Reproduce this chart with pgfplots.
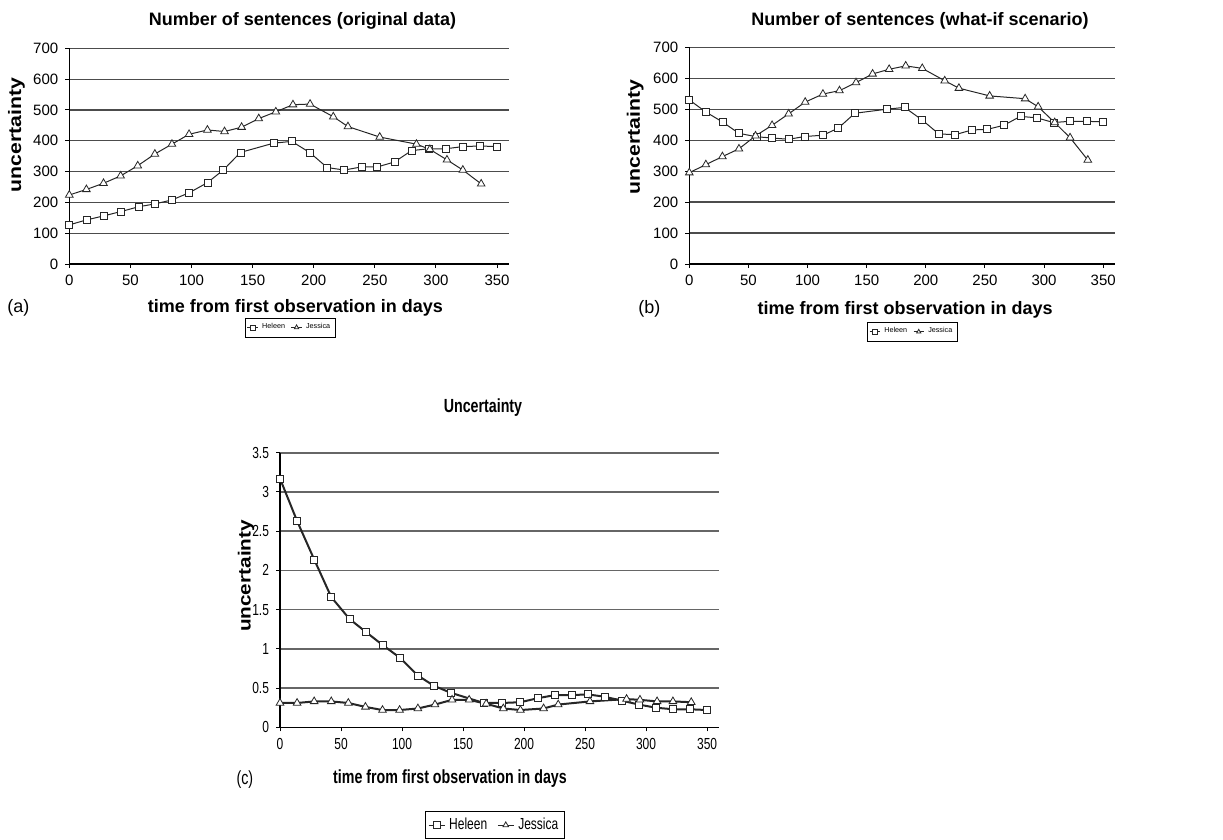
\documentclass[border=0pt]{standalone}
\usepackage{fontspec}
\setmainfont{Liberation Sans}
\newfontfamily\cfont[FakeStretch=0.75]{Liberation Sans}
\newfontfamily\yfont[FakeStretch=1.18]{Liberation Sans}
\usepackage{pgfplots}
\pgfplotsset{compat=1.18}

\pgfplotsset{
  panel/.style={
    scale only axis,
    axis lines=left, axis line style={-, black, line width=0.6pt},
    xmin=0, xmax=360, ymin=0,
    xtick={0,50,...,350},
    ymajorgrids, grid style={black!70, line width=0.6pt},
    tick align=outside, tick style={black, line width=0.5pt},
    major tick length=2pt,
    every axis title shift=0pt,
    /pgf/number format/assume math mode=true,
    clip=false,
    legend columns=2,
  },
  small/.style={
    tick label style={font=\fontsize{7.5}{9}\selectfont},
    xlabel style={font=\bfseries\fontsize{9}{11}\selectfont},
    ylabel style={font=\yfont\bfseries\fontsize{9}{11}\selectfont},
    title style={font=\bfseries\fontsize{9}{11}\selectfont},
    legend style={draw=black, line width=0.4pt, anchor=center,
      font=\fontsize{3.6}{4.5}\selectfont, inner sep=0.7pt,
      /tikz/every even column/.append style={column sep=1pt}},
    legend image code/.code={\draw[mark repeat=2,mark phase=2]
      plot coordinates {(0pt,0pt) (2.6pt,0pt) (5.2pt,0pt)};},
    legend image post style={mark size=1.25pt, line width=0.35pt},
  },
  heleen/.style={black!85, line width=0.5pt, mark=square*, mark size=1.75pt,
    mark options={fill=white, line width=0.4pt}},
  jessica/.style={black!85, line width=0.5pt, mark=triangle*, mark size=2.2pt,
    mark options={fill=white, line width=0.4pt}},
}

\begin{document}
\begin{tikzpicture}
\path (0pt,0pt) rectangle (611.5pt,-419.5pt);

% (a) original data
\begin{axis}[panel, small,
  at={(34.65pt,-132pt)}, anchor=south west,
  width=220pt, height=107.85pt,
  ymax=700, ytick={0,100,...,700},
  title={Number of sentences (original data)},
  title style={at={(0.53,1.125)}, anchor=center},
  xlabel={time from first observation in days},
  xlabel style={at={(axis description cs:0.514,-0.204)}, anchor=center},
  ylabel={uncertainty},
  ylabel style={at={(axis description cs:-0.12,0.597)}, anchor=center},
  legend style={at={(0.503,-0.294)}},
]
\addplot[heleen] coordinates {
(0,127) (14,143) (28,156) (42,170) (57,186) (70,195) (84,208) (98,231)
(113,264) (126,305) (140,362) (167,392) (182,398) (197,361) (211,313)
(225,305) (239,315) (252,315) (266,331) (280,368) (294,374) (308,374)
(322,381) (336,383) (350,381)};
\addplot[jessica] coordinates {
(0,224) (14,242) (28,262) (42,286) (56,319) (70,357) (84,389) (98,421)
(113,435) (127,430) (141,444) (155,472) (169,494) (183,517) (197,519)
(216,478) (228,446) (254,412) (284,389) (295,372) (309,338) (322,305)
(337,260)};
\legend{Heleen, Jessica}
\node[font=\fontsize{9}{11}\selectfont] at (axis description cs:-0.116,-0.204) {(a)};
\end{axis}

% (b) what-if scenario
\begin{axis}[panel, small,
  at={(344.65pt,-132pt)}, anchor=south west,
  width=212.85pt, height=108.35pt,
  ymax=700, ytick={0,100,...,700},
  title={Number of sentences (what-if scenario)},
  title style={at={(0.542,1.12)}, anchor=center},
  xlabel={time from first observation in days},
  xlabel style={at={(axis description cs:0.507,-0.212)}, anchor=center},
  ylabel={uncertainty},
  ylabel style={at={(axis description cs:-0.127,0.585)}, anchor=center},
  legend style={at={(0.525,-0.313)}},
]
\addplot[heleen] coordinates {
(0,530) (14,491) (28,459) (42,422) (57,411) (70,407) (84,403) (98,412)
(113,416) (126,439) (140,487) (167,500) (182,506) (197,465) (211,420)
(225,418) (239,433) (252,435) (266,448) (280,477) (294,472) (308,457)
(322,461) (336,461) (350,459)};
\addplot[jessica] coordinates {
(0,295) (14,321) (28,347) (42,372) (56,414) (70,448) (84,485) (98,523)
(113,549) (127,560) (141,586) (155,614) (169,629) (183,640) (197,632)
(216,592) (228,568) (254,543) (284,534) (295,508) (309,457) (322,408)
(337,336)};
\legend{Heleen, Jessica}
\node[font=\fontsize{9}{11}\selectfont] at (axis description cs:-0.094,-0.207) {(b)};
\end{axis}

% (c) uncertainty
\begin{axis}[panel,
  at={(140pt,-363.65pt)}, anchor=south west,
  width=219.65pt, height=137.3pt,
  ymax=3.5, ytick={0,0.5,...,3.5},
  grid style={black!60, line width=0.8pt},
  tick label style={font=\cfont\fontsize{8}{9.6}\selectfont},
  xlabel style={font=\cfont\bfseries\fontsize{9.5}{11}\selectfont},
  ylabel style={font=\yfont\bfseries\fontsize{8.8}{11}\selectfont},
  title={Uncertainty},
  title style={at={(0.462,1.163)}, anchor=center, font=\cfont\bfseries\fontsize{9.5}{11}\selectfont},
  xlabel={time from first observation in days},
  xlabel style={at={(axis description cs:0.387,-0.185)}, anchor=center},
  ylabel={uncertainty},
  ylabel style={at={(axis description cs:-0.077,0.551)}, anchor=center},
  legend style={draw=black, line width=0.4pt, anchor=center, at={(0.49,-0.356)},
    font=\cfont\fontsize{8}{9.6}\selectfont, inner sep=1.2pt,
    /tikz/every even column/.append style={column sep=3pt}},
  legend image code/.code={\draw[mark repeat=2,mark phase=2]
    plot coordinates {(0pt,0pt) (4pt,0pt) (8pt,0pt)};},
  legend image post style={mark size=1.6pt, line width=0.5pt},
]
\addplot[heleen, line width=1pt] coordinates {
(0,3.17) (14,2.63) (28,2.14) (42,1.66) (57,1.38) (70,1.22) (84,1.05) (98,0.89)
(113,0.66) (126,0.53) (140,0.44) (167,0.31) (182,0.31) (197,0.32) (211,0.37)
(225,0.41) (239,0.41) (252,0.42) (266,0.39) (280,0.34) (294,0.29) (308,0.25)
(322,0.23) (336,0.23) (350,0.22)};
\addplot[jessica, line width=1pt] coordinates {
(0,0.31) (14,0.31) (28,0.33) (42,0.33) (56,0.31) (70,0.26) (84,0.22) (98,0.22)
(113,0.24) (127,0.29) (141,0.35) (155,0.35) (169,0.30) (183,0.24) (197,0.22)
(216,0.24) (228,0.29) (254,0.33) (284,0.36) (295,0.35) (309,0.33) (322,0.33)
(337,0.32)};
\legend{Heleen, Jessica}
\node[font=\cfont\fontsize{9.5}{11}\selectfont] at (axis description cs:-0.08,-0.191) {(c)};
\end{axis}
\end{tikzpicture}
\end{document}
